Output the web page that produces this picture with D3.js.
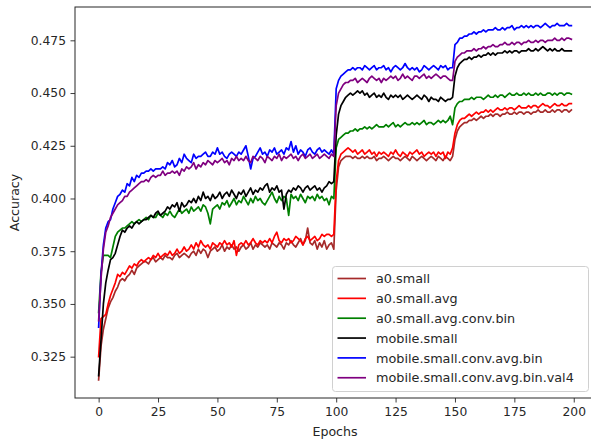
<!DOCTYPE html>
<html>
<head>
<meta charset="utf-8">
<script src="https://cdn.jsdelivr.net/npm/d3@7"></script>
<style>
  body { margin: 0; background: #fff; }
  svg { display: block; font-family: "DejaVu Sans", sans-serif; }
  .axis text { font-size: 12.3px; fill: #262626; }
  .axis line { stroke: #262626; stroke-width: 0.9; }
  .axis path { display: none; }
</style>
</head>
<body>
<div id="viz"></div>
<script>
// epochs 0..199
var epochs = d3.range(200);

var a0Small = [
  0.314,0.330,0.338,0.343,0.348,0.351,0.353,0.356,0.358,0.361,
  0.362,0.361,0.363,0.364,0.366,0.364,0.367,0.368,0.369,0.370,
  0.370,0.369,0.371,0.372,0.370,0.371,0.372,0.371,0.373,0.372,
  0.372,0.371,0.373,0.374,0.372,0.373,0.374,0.373,0.372,0.374,
  0.375,0.373,0.376,0.374,0.376,0.375,0.372,0.375,0.376,0.377,
  0.375,0.376,0.378,0.375,0.377,0.376,0.378,0.376,0.377,0.375,
  0.377,0.378,0.376,0.377,0.379,0.376,0.378,0.377,0.379,0.378,
  0.377,0.378,0.376,0.379,0.378,0.377,0.379,0.378,0.376,0.379,
  0.378,0.380,0.378,0.377,0.379,0.381,0.378,0.380,0.386,0.379,
  0.378,0.380,0.376,0.379,0.377,0.380,0.376,0.378,0.379,0.376,
  0.404,0.415,0.418,0.419,0.420,0.420,0.420,0.419,0.420,0.419,
  0.419,0.420,0.419,0.420,0.419,0.419,0.420,0.418,0.419,0.419,
  0.420,0.419,0.418,0.419,0.420,0.419,0.419,0.418,0.419,0.420,
  0.419,0.418,0.420,0.419,0.418,0.419,0.420,0.419,0.418,0.419,
  0.420,0.419,0.418,0.420,0.419,0.418,0.420,0.419,0.418,0.420,
  0.428,0.432,0.434,0.435,0.436,0.436,0.437,0.437,0.438,0.437,
  0.438,0.439,0.438,0.439,0.439,0.440,0.439,0.440,0.440,0.439,
  0.440,0.440,0.441,0.440,0.440,0.441,0.440,0.441,0.441,0.440,
  0.441,0.441,0.440,0.441,0.441,0.442,0.441,0.441,0.442,0.441,
  0.441,0.442,0.441,0.442,0.442,0.441,0.442,0.442,0.441,0.442
];

var a0SmallAvg = [
  0.325,0.343,0.344,0.345,0.350,0.354,0.357,0.360,0.364,0.363,
  0.365,0.364,0.366,0.368,0.367,0.369,0.368,0.370,0.371,0.370,
  0.371,0.372,0.371,0.373,0.372,0.374,0.372,0.373,0.374,0.373,
  0.375,0.373,0.374,0.376,0.374,0.375,0.377,0.375,0.376,0.378,
  0.376,0.379,0.377,0.380,0.378,0.377,0.378,0.376,0.379,0.378,
  0.377,0.379,0.378,0.380,0.378,0.379,0.377,0.380,0.373,0.378,
  0.379,0.378,0.380,0.378,0.379,0.381,0.379,0.378,0.380,0.379,
  0.380,0.379,0.381,0.379,0.382,0.384,0.380,0.379,0.381,0.380,
  0.381,0.379,0.380,0.382,0.381,0.380,0.378,0.381,0.382,0.380,
  0.381,0.382,0.380,0.381,0.383,0.382,0.383,0.383,0.382,0.383,
  0.408,0.418,0.421,0.422,0.423,0.424,0.423,0.422,0.423,0.421,
  0.422,0.423,0.421,0.422,0.423,0.421,0.422,0.420,0.422,0.421,
  0.422,0.421,0.420,0.422,0.421,0.423,0.421,0.420,0.422,0.421,
  0.420,0.422,0.421,0.422,0.423,0.421,0.422,0.420,0.421,0.422,
  0.421,0.422,0.420,0.422,0.421,0.422,0.419,0.422,0.421,0.424,
  0.431,0.435,0.437,0.438,0.438,0.439,0.440,0.439,0.440,0.441,
  0.440,0.441,0.441,0.442,0.441,0.442,0.441,0.442,0.443,0.442,
  0.442,0.443,0.442,0.443,0.443,0.442,0.443,0.444,0.443,0.443,
  0.443,0.444,0.443,0.444,0.444,0.443,0.444,0.445,0.444,0.444,
  0.443,0.444,0.445,0.444,0.444,0.445,0.444,0.444,0.445,0.445
];

var a0SmallAvgConvBin = [
  0.346,0.365,0.373,0.373,0.373,0.372,0.377,0.382,0.384,0.385,
  0.386,0.386,0.387,0.388,0.389,0.388,0.389,0.390,0.389,0.390,
  0.391,0.390,0.392,0.391,0.391,0.393,0.392,0.391,0.393,0.392,
  0.394,0.392,0.391,0.393,0.395,0.393,0.394,0.395,0.393,0.396,
  0.394,0.395,0.396,0.394,0.397,0.396,0.393,0.388,0.395,0.396,
  0.397,0.395,0.398,0.397,0.399,0.396,0.398,0.400,0.397,0.399,
  0.398,0.401,0.399,0.397,0.400,0.398,0.401,0.399,0.400,0.398,
  0.397,0.399,0.401,0.403,0.400,0.398,0.401,0.399,0.401,0.400,
  0.392,0.402,0.400,0.401,0.399,0.402,0.400,0.398,0.401,0.400,
  0.401,0.399,0.402,0.400,0.401,0.399,0.400,0.397,0.401,0.400,
  0.424,0.428,0.429,0.430,0.431,0.431,0.432,0.432,0.433,0.432,
  0.433,0.433,0.434,0.433,0.434,0.433,0.434,0.435,0.434,0.434,
  0.434,0.435,0.434,0.435,0.436,0.434,0.435,0.434,0.435,0.436,
  0.435,0.435,0.436,0.435,0.436,0.435,0.436,0.437,0.435,0.436,
  0.436,0.435,0.436,0.437,0.436,0.437,0.436,0.437,0.439,0.435,
  0.443,0.445,0.446,0.446,0.447,0.447,0.447,0.448,0.447,0.448,
  0.448,0.448,0.447,0.448,0.449,0.448,0.448,0.449,0.448,0.449,
  0.449,0.448,0.449,0.450,0.449,0.449,0.450,0.449,0.449,0.450,
  0.449,0.450,0.449,0.449,0.450,0.449,0.450,0.449,0.449,0.450,
  0.450,0.449,0.450,0.449,0.450,0.450,0.449,0.450,0.450,0.4495
];

var mobileSmall = [
  0.316,0.333,0.350,0.360,0.366,0.371,0.372,0.374,0.378,0.382,
  0.385,0.384,0.386,0.387,0.386,0.388,0.389,0.388,0.389,0.390,
  0.390,0.391,0.392,0.391,0.393,0.394,0.392,0.393,0.394,0.396,
  0.395,0.397,0.396,0.398,0.394,0.398,0.396,0.397,0.399,0.398,
  0.400,0.398,0.401,0.399,0.403,0.400,0.401,0.399,0.402,0.400,
  0.401,0.403,0.400,0.402,0.403,0.401,0.404,0.402,0.400,0.403,
  0.402,0.404,0.401,0.403,0.405,0.402,0.404,0.403,0.405,0.404,
  0.406,0.407,0.403,0.405,0.404,0.406,0.403,0.404,0.395,0.402,
  0.404,0.403,0.405,0.404,0.406,0.405,0.403,0.405,0.406,0.404,
  0.405,0.406,0.404,0.405,0.403,0.405,0.406,0.408,0.407,0.408,
  0.430,0.440,0.444,0.446,0.448,0.449,0.450,0.449,0.450,0.451,
  0.450,0.451,0.449,0.450,0.448,0.449,0.450,0.448,0.449,0.448,
  0.450,0.448,0.447,0.449,0.448,0.449,0.448,0.449,0.447,0.448,
  0.449,0.448,0.447,0.448,0.449,0.448,0.447,0.449,0.448,0.446,
  0.448,0.447,0.447,0.446,0.448,0.447,0.446,0.447,0.447,0.448,
  0.458,0.462,0.464,0.465,0.466,0.466,0.467,0.466,0.467,0.467,
  0.468,0.467,0.468,0.468,0.469,0.468,0.469,0.468,0.469,0.469,
  0.469,0.470,0.469,0.470,0.469,0.470,0.470,0.469,0.470,0.470,
  0.470,0.471,0.470,0.470,0.471,0.470,0.471,0.472,0.471,0.470,
  0.471,0.470,0.471,0.470,0.470,0.471,0.470,0.470,0.470,0.470
];

var mobileSmallConvAvgBin = [
  0.339,0.364,0.378,0.386,0.389,0.390,0.395,0.398,0.401,0.402,
  0.404,0.403,0.407,0.406,0.410,0.408,0.411,0.410,0.412,0.412,
  0.413,0.413,0.414,0.413,0.414,0.414,0.414,0.415,0.414,0.417,
  0.416,0.418,0.415,0.416,0.419,0.417,0.421,0.419,0.418,0.417,
  0.421,0.419,0.420,0.420,0.421,0.422,0.420,0.420,0.422,0.421,
  0.424,0.421,0.422,0.420,0.419,0.421,0.422,0.421,0.420,0.422,
  0.421,0.423,0.425,0.420,0.414,0.419,0.420,0.422,0.424,0.421,
  0.422,0.420,0.423,0.422,0.424,0.421,0.422,0.423,0.421,0.424,
  0.423,0.427,0.422,0.425,0.421,0.423,0.422,0.420,0.423,0.424,
  0.422,0.421,0.423,0.424,0.422,0.423,0.422,0.421,0.423,0.421,
  0.452,0.456,0.458,0.459,0.460,0.461,0.461,0.462,0.461,0.462,
  0.462,0.461,0.463,0.462,0.461,0.462,0.463,0.461,0.462,0.462,
  0.463,0.461,0.462,0.460,0.462,0.463,0.462,0.461,0.462,0.464,
  0.462,0.461,0.462,0.461,0.462,0.460,0.461,0.463,0.462,0.461,
  0.462,0.463,0.462,0.461,0.463,0.462,0.463,0.461,0.462,0.462,
  0.473,0.474,0.476,0.476,0.477,0.477,0.478,0.478,0.479,0.478,
  0.479,0.479,0.480,0.479,0.480,0.480,0.480,0.481,0.480,0.480,
  0.481,0.480,0.481,0.481,0.482,0.480,0.481,0.481,0.482,0.481,
  0.482,0.481,0.482,0.481,0.482,0.482,0.481,0.482,0.483,0.482,
  0.481,0.482,0.482,0.483,0.482,0.482,0.482,0.483,0.482,0.482
];

var mobileSmallConvAvgBinVal4 = [
  0.342,0.362,0.376,0.384,0.387,0.391,0.393,0.395,0.397,0.398,
  0.399,0.401,0.401,0.403,0.404,0.405,0.406,0.407,0.408,0.408,
  0.409,0.408,0.410,0.411,0.410,0.411,0.411,0.413,0.411,0.412,
  0.412,0.413,0.412,0.413,0.411,0.414,0.413,0.415,0.414,0.415,
  0.417,0.414,0.416,0.415,0.417,0.416,0.418,0.417,0.416,0.418,
  0.417,0.418,0.419,0.417,0.418,0.416,0.419,0.418,0.420,0.418,
  0.419,0.418,0.420,0.418,0.417,0.420,0.419,0.418,0.420,0.419,
  0.417,0.420,0.419,0.418,0.420,0.419,0.421,0.418,0.420,0.419,
  0.420,0.421,0.419,0.420,0.418,0.420,0.421,0.419,0.420,0.421,
  0.419,0.420,0.421,0.419,0.420,0.421,0.420,0.419,0.421,0.420,
  0.444,0.450,0.452,0.454,0.455,0.455,0.456,0.456,0.457,0.455,
  0.456,0.457,0.456,0.455,0.457,0.458,0.457,0.456,0.457,0.455,
  0.457,0.456,0.457,0.458,0.457,0.458,0.456,0.457,0.459,0.457,
  0.458,0.457,0.456,0.458,0.458,0.457,0.458,0.459,0.457,0.458,
  0.457,0.458,0.459,0.458,0.457,0.458,0.458,0.457,0.456,0.456,
  0.465,0.467,0.468,0.469,0.469,0.470,0.470,0.470,0.471,0.470,
  0.471,0.471,0.472,0.471,0.472,0.472,0.473,0.472,0.472,0.473,
  0.473,0.474,0.473,0.473,0.474,0.473,0.474,0.474,0.473,0.474,
  0.474,0.475,0.474,0.474,0.475,0.474,0.475,0.475,0.474,0.475,
  0.475,0.475,0.476,0.475,0.475,0.476,0.475,0.476,0.476,0.4755
];

var seriesNames = ["a0.small", "a0.small.avg", "a0.small.avg.conv.bin",
  "mobile.small", "mobile.small.conv.avg.bin", "mobile.small.conv.avg.bin.val4"];
var seriesValues = [a0Small, a0SmallAvg, a0SmallAvgConvBin,
  mobileSmall, mobileSmallConvAvgBin, mobileSmallConvAvgBinVal4];
var seriesColors = ["#a52a2a", "#ff0000", "#008000", "#000000", "#0000ff", "#800080"];

var xTicks = [0, 25, 50, 75, 100, 125, 150, 175, 200];
var yTicks = [0.325, 0.350, 0.375, 0.400, 0.425, 0.450, 0.475];

var width = 591,
    height = 441;

var margin = {left: 75, top: 7, right: 595, bottom: 398};

var x = d3.scaleLinear()
    .domain([-9.95, 208.95])
    .range([margin.left, margin.right]);

var y = d3.scaleLinear()
    .domain([0.3054, 0.4908])
    .range([margin.bottom, margin.top]);

var svg = d3.select("#viz").append("svg")
    .attr("width", width)
    .attr("height", height);

svg.append("rect")
    .attr("width", width)
    .attr("height", height)
    .attr("fill", "#fff");

// lines
var line = d3.line()
    .x(function(d, i) { return x(epochs[i]); })
    .y(function(d) { return y(d); });

var plot = svg.append("g");

plot.selectAll("path")
    .data(seriesValues)
  .enter().append("path")
    .attr("fill", "none")
    .attr("stroke", function(d, i) { return seriesColors[i]; })
    .attr("stroke-width", 1.7)
    .attr("stroke-linejoin", "round")
    .attr("stroke-linecap", "square")
    .attr("d", line);

// spines
svg.append("rect")
    .attr("x", margin.left)
    .attr("y", margin.top)
    .attr("width", margin.right - margin.left)
    .attr("height", margin.bottom - margin.top)
    .attr("fill", "none")
    .attr("stroke", "#262626")
    .attr("stroke-width", 1);

// axes
svg.append("g")
    .attr("class", "axis")
    .attr("transform", "translate(0," + margin.bottom + ")")
    .call(d3.axisBottom(x).tickValues(xTicks).tickFormat(d3.format("d"))
      .tickSize(4.5).tickPadding(4.5));

svg.append("g")
    .attr("class", "axis")
    .attr("transform", "translate(" + margin.left + ",0)")
    .call(d3.axisLeft(y).tickValues(yTicks).tickFormat(d3.format(".3f"))
      .tickSize(4.5).tickPadding(4.5));

svg.selectAll(".axis").attr("font-family", null).attr("font-size", null);

// axis labels
svg.append("text")
    .attr("x", (margin.left + margin.right) / 2)
    .attr("y", 436)
    .attr("text-anchor", "middle")
    .attr("font-size", "12.6px")
    .attr("fill", "#262626")
    .text("Epochs");

svg.append("text")
    .attr("transform", "translate(19," + ((margin.top + margin.bottom) / 2) + ") rotate(-90)")
    .attr("text-anchor", "middle")
    .attr("font-size", "12.6px")
    .attr("fill", "#262626")
    .text("Accuracy");

// legend
var legend = svg.append("g");

legend.append("rect")
    .attr("x", 332.5)
    .attr("y", 266.5)
    .attr("width", 256)
    .attr("height", 125)
    .attr("rx", 3)
    .attr("fill", "#fff")
    .attr("fill-opacity", 0.8)
    .attr("stroke", "#d0d0d0")
    .attr("stroke-width", 1);

var entry = legend.selectAll("g.entry")
    .data(seriesNames)
  .enter().append("g")
    .attr("class", "entry")
    .attr("transform", function(d, i) { return "translate(0," + (278.5 + i * 19.85) + ")"; });

entry.append("line")
    .attr("x1", 337.5)
    .attr("x2", 366)
    .attr("stroke", function(d, i) { return seriesColors[i]; })
    .attr("stroke-width", 1.7);

entry.append("text")
    .attr("x", 376)
    .attr("dy", "0.36em")
    .attr("font-size", "12.8px")
    .attr("fill", "#262626")
    .text(function(d) { return d; });
</script>
</body>
</html>
